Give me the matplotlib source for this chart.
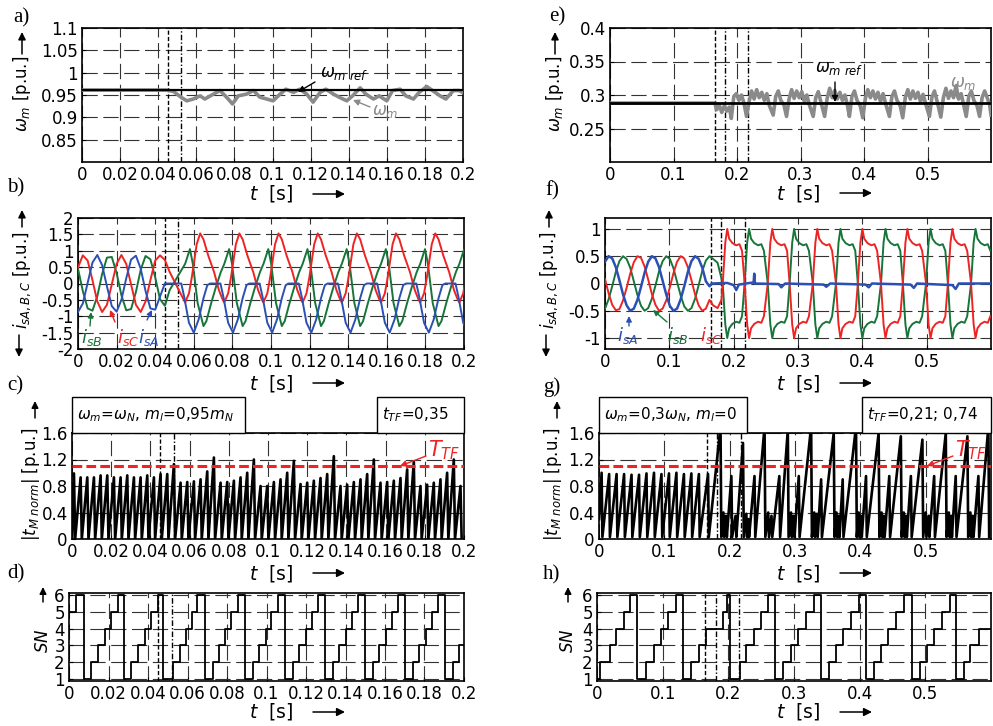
import numpy as np
import matplotlib
matplotlib.use("Agg")
import matplotlib.pyplot as plt
from matplotlib.patches import Rectangle
from matplotlib.ticker import FormatStrFormatter

plt.rcParams['font.family'] = ['DejaVu Sans']
plt.rcParams['mathtext.fontset'] = 'dejavusans'
plt.rcParams['axes.unicode_minus'] = False
plt.rcParams['lines.scale_dashes'] = False

W, H = 993, 726
RED = '#ee2424'
GREEN = '#17753a'
BLUE = '#2b50b5'
GRAY = '#8a8a8a'

# ---------------- data ----------------
# a) speed, w_m = w_N, m_l = 0.95 m_N
a_ref = 0.961
a_w = [(0, 0.961), (0.0444, 0.961), (0.048, 0.958), (0.052, 0.945), (0.055, 0.937),
       (0.0584, 0.941), (0.062, 0.948), (0.0645, 0.941), (0.069, 0.952), (0.0724, 0.960),
       (0.0759, 0.945), (0.079, 0.930), (0.082, 0.948), (0.0864, 0.952), (0.09, 0.960),
       (0.0934, 0.945), (0.097, 0.941), (0.1003, 0.937), (0.104, 0.952), (0.107, 0.963),
       (0.111, 0.956), (0.1143, 0.963), (0.118, 0.952), (0.1213, 0.934), (0.125, 0.956),
       (0.128, 0.963), (0.132, 0.952), (0.135, 0.945), (0.139, 0.937), (0.142, 0.948),
       (0.146, 0.966), (0.149, 0.952), (0.153, 0.941), (0.156, 0.948), (0.16, 0.937),
       (0.163, 0.960), (0.167, 0.963), (0.17, 0.948), (0.174, 0.941), (0.177, 0.956),
       (0.181, 0.969), (0.184, 0.960), (0.188, 0.948), (0.191, 0.941), (0.195, 0.960),
       (0.198, 0.960), (0.2, 0.955)]

# e) speed, w_m = 0.3 w_N, m_l = 0
e_ref = 0.288
e_w = [(0, 0.288), (0.165, 0.288), (0.168, 0.278), (0.172, 0.285), (0.176, 0.274),
       (0.18, 0.284), (0.184, 0.276), (0.188, 0.282), (0.191, 0.265), (0.195, 0.298),
       (0.199, 0.302), (0.203, 0.292), (0.207, 0.300), (0.211, 0.288), (0.215, 0.268),
       (0.219, 0.290), (0.223, 0.306), (0.227, 0.294), (0.231, 0.308), (0.235, 0.296),
       (0.239, 0.304), (0.243, 0.292), (0.247, 0.302), (0.251, 0.284), (0.257, 0.270),
       (0.261, 0.298), (0.265, 0.306), (0.269, 0.292), (0.274, 0.285), (0.278, 0.268),
       (0.282, 0.294), (0.286, 0.308), (0.29, 0.295), (0.294, 0.306), (0.298, 0.296),
       (0.302, 0.305), (0.306, 0.290), (0.31, 0.300), (0.314, 0.285), (0.32, 0.268),
       (0.324, 0.296), (0.328, 0.305), (0.332, 0.290), (0.338, 0.268), (0.342, 0.295),
       (0.346, 0.310), (0.35, 0.296), (0.354, 0.307), (0.358, 0.294), (0.362, 0.304),
       (0.366, 0.292), (0.37, 0.300), (0.374, 0.284), (0.377, 0.268), (0.381, 0.298),
       (0.385, 0.306), (0.389, 0.292), (0.394, 0.284), (0.398, 0.266), (0.402, 0.294),
       (0.406, 0.308), (0.41, 0.296), (0.414, 0.306), (0.418, 0.294), (0.422, 0.304),
       (0.426, 0.290), (0.43, 0.302), (0.435, 0.284), (0.44, 0.268), (0.444, 0.298),
       (0.448, 0.306), (0.452, 0.292), (0.457, 0.284), (0.461, 0.266), (0.465, 0.296),
       (0.469, 0.308), (0.473, 0.294), (0.477, 0.306), (0.481, 0.295), (0.485, 0.304),
       (0.489, 0.290), (0.493, 0.301), (0.498, 0.284), (0.503, 0.268), (0.507, 0.297),
       (0.511, 0.306), (0.515, 0.291), (0.521, 0.267), (0.525, 0.296), (0.529, 0.310),
       (0.533, 0.295), (0.537, 0.306), (0.541, 0.296), (0.545, 0.314), (0.549, 0.294),
       (0.553, 0.302), (0.557, 0.285), (0.561, 0.268), (0.565, 0.298), (0.569, 0.306),
       (0.573, 0.292), (0.578, 0.284), (0.582, 0.268), (0.586, 0.296), (0.59, 0.306),
       (0.594, 0.296), (0.598, 0.285), (0.6, 0.270)]

# b) phase currents before the fault (0 .. 0.0475 s)
b_pre_t = [0, 0.0025, 0.005, 0.0075, 0.01, 0.0125, 0.015, 0.0175, 0.02, 0.0225,
           0.025, 0.0275, 0.03, 0.0325, 0.035, 0.0375, 0.04, 0.0425, 0.045, 0.0475]
b_red_pre = [0.49, 0.86, 0.70, 0.10, -0.55, -0.87, -0.65, -0.03, 0.60, 0.87,
             0.60, -0.03, -0.65, -0.87, -0.55, 0.10, 0.70, 0.86, 0.72, 0.35]
b_blue_pre = [-0.87, -0.61, 0.02, 0.64, 0.87, 0.56, -0.09, -0.69, -0.86, -0.50,
              0.16, 0.73, 0.85, 0.45, -0.23, -0.76, -0.80, -0.40, 0.0, 0.0]
b_green_pre = [0.45, -0.23, -0.76, -0.83, -0.39, 0.29, 0.79, 0.81, 0.32, -0.36,
               -0.82, -0.78, -0.26, 0.42, 0.84, 0.74, 0.19, -0.48, -0.68, -0.20]
# after the fault: one period shape per current, repeated at each i_sC minimum
b_cycles = [0.0555, 0.0758, 0.0961, 0.1164, 0.1367, 0.157, 0.1773, 0.1976]
b_red_dt = [0, 0.002, 0.0035, 0.006, 0.0078, 0.0095, 0.012, 0.015, 0.0175, 0.0195]
b_red_v = [-0.58, -0.3, 0.2, 1.2, 1.53, 1.35, 0.85, 0.35, -0.2, -0.5]
b_green_dt = [0, 0.0025, 0.004, 0.0065, 0.0095, 0.011, 0.0135, 0.016, 0.0185]
b_green_v = [0.6, 1.05, 0.6, -0.6, -1.3, -1.15, -0.6, -0.1, 0.35]
b_blue_dt = [-0.002, -0.0005, 0.002, 0.0045, 0.007, 0.0095, 0.0115, 0.013, 0.018]
b_blue_v = [0, -0.4, -1.2, -1.5, -1.1, -0.45, -0.05, 0, 0]

# f) phase currents before the fault (0 .. 0.1624 s)
f_pre_t = [0, 0.0056, 0.0112, 0.0168, 0.0224, 0.028, 0.0336, 0.0392, 0.0448, 0.0504,
           0.056, 0.0616, 0.0672, 0.0728, 0.0784, 0.084, 0.0896, 0.0952, 0.1008, 0.1064,
           0.112, 0.1176, 0.1232, 0.1288, 0.1344, 0.14, 0.1456, 0.1512, 0.1568, 0.1624]
f_blue_pre = [0.40, 0.50, 0.46, 0.30, 0.06, -0.20, -0.40, -0.50, -0.46, -0.30,
              -0.06, 0.20, 0.40, 0.50, 0.46, 0.30, 0.05, -0.20, -0.41, -0.50,
              -0.46, -0.29, -0.05, 0.21, 0.41, 0.50, 0.45, 0.29, 0.04, -0.05]
f_green_pre = [-0.46, -0.29, -0.05, 0.21, 0.41, 0.50, 0.45, 0.29, 0.04, -0.21,
               -0.41, -0.50, -0.45, -0.28, -0.04, 0.22, 0.41, 0.50, 0.45, 0.28,
               0.03, -0.22, -0.42, -0.50, -0.45, -0.28, -0.03, 0.23, 0.42, 0.50]
f_red_pre = [0.08, -0.18, -0.39, -0.49, -0.47, -0.31, -0.08, 0.18, 0.39, 0.50,
             0.47, 0.31, 0.07, -0.19, -0.39, -0.50, -0.46, -0.31, -0.07, 0.19,
             0.40, 0.50, 0.46, 0.30, 0.06, -0.20, -0.40, -0.50, -0.46, -0.30]
f_green_tr = [(0.168, 0.45), (0.175, 0.38), (0.181, 0.1)]
f_red_tr = [(0.168, -0.40), (0.175, -0.45), (0.181, -0.3)]
f_blue_post = [(0.166, 0.0), (0.19, 0.01), (0.2, -0.03), (0.204, -0.12), (0.208, -0.02),
               (0.231, 0.02), (0.232, 0.18), (0.233, 0.0), (0.27, -0.01), (0.274, -0.07),
               (0.28, 0.0), (0.34, -0.02), (0.344, -0.06), (0.35, 0.0), (0.405, -0.02),
               (0.41, -0.07), (0.415, 0.0), (0.475, -0.02), (0.48, -0.08), (0.485, 0.0),
               (0.54, -0.03), (0.545, -0.1), (0.55, 0.0), (0.6, 0.0)]
# after the fault: half waves of i_sC / i_sB starting at each zero crossing
f_halves = [0.183, 0.217, 0.253, 0.287, 0.323, 0.359, 0.393, 0.429, 0.463, 0.499, 0.533, 0.569]
f_red_sign = [1, -1, 1, -1, 1, -1, 1, -1, 1, -1, 1, -1]
f_green_sign = [-1, 1, -1, 1, -1, 1, -1, 1, -1, 1, -1, 1]
f_half_dt = [0, 0.004, 0.007, 0.010, 0.015, 0.021, 0.026, 0.030]
f_half_v = [0, 0.75, 1.0, 0.82, 0.74, 0.70, 0.72, 0.60]

# c) |t_M norm| saw teeth: (peak time, peak value)
c_teeth = [(0.001, 0.99), (0.0044, 0.93), (0.0078, 0.93), (0.0112, 0.93), (0.0146, 0.96),
           (0.018, 0.96), (0.0214, 0.93), (0.0248, 0.93), (0.0282, 0.96), (0.0316, 0.93),
           (0.035, 0.93), (0.0384, 0.96), (0.0418, 0.93), (0.0452, 0.98), (0.0486, 0.98),
           (0.052, 1.13), (0.0554, 0.85), (0.0588, 0.86), (0.0622, 0.87), (0.0656, 0.90),
           (0.069, 1.02), (0.0724, 1.23), (0.0758, 0.85), (0.0792, 0.86), (0.0826, 0.88),
           (0.086, 0.93), (0.0894, 1.0), (0.0928, 1.2), (0.0962, 0.80), (0.0996, 0.80),
           (0.103, 0.86), (0.1064, 0.90), (0.1098, 1.0), (0.1132, 1.18), (0.1166, 0.83),
           (0.12, 0.85), (0.1234, 0.88), (0.1268, 0.92), (0.1302, 0.98), (0.1336, 1.25),
           (0.137, 0.80), (0.1404, 0.82), (0.1438, 0.86), (0.1472, 0.90), (0.1506, 0.98),
           (0.154, 1.2), (0.1574, 0.85), (0.1608, 0.86), (0.1642, 0.88), (0.1676, 0.92),
           (0.171, 1.05), (0.1744, 1.17), (0.1778, 0.80), (0.1812, 0.82), (0.1846, 0.85),
           (0.188, 0.90), (0.1914, 1.0), (0.1948, 1.2), (0.1982, 0.80)]

# g) |t_M norm| saw teeth
g_teeth = [(0.004, 1.0), (0.0155, 0.98), (0.0269, 0.98), (0.0384, 0.98), (0.0498, 0.97),
           (0.0613, 0.97), (0.0727, 0.99), (0.0842, 1.0), (0.0956, 0.98), (0.1071, 0.99),
           (0.1185, 1.0), (0.13, 0.98), (0.1414, 0.99), (0.1529, 0.98), (0.1669, 0.98),
           (0.186, 1.7), (0.1905, 0.4), (0.1945, 0.35), (0.2026, 0.95), (0.209, 0.35),
           (0.2204, 1.45), (0.2255, 0.38), (0.2285, 0.3), (0.238, 0.95), (0.2534, 1.7),
           (0.259, 0.4), (0.264, 0.35), (0.276, 0.95), (0.289, 1.65), (0.294, 0.4),
           (0.298, 0.35), (0.3058, 0.95), (0.3247, 1.7), (0.3295, 0.4), (0.3335, 0.38),
           (0.34, 0.9), (0.3593, 1.6), (0.3635, 0.4), (0.367, 0.35), (0.373, 0.9),
           (0.3934, 1.7), (0.3975, 0.4), (0.401, 0.35), (0.4087, 0.95), (0.428, 1.6),
           (0.4325, 0.4), (0.436, 0.35), (0.4443, 0.95), (0.462, 1.55), (0.4665, 0.4),
           (0.47, 0.35), (0.4774, 0.95), (0.495, 1.5), (0.5, 0.4), (0.5045, 0.35),
           (0.513, 0.95), (0.5308, 1.6), (0.5355, 0.4), (0.539, 0.35), (0.546, 0.95),
           (0.5639, 1.55), (0.5685, 0.4), (0.572, 0.35), (0.5807, 0.95), (0.596, 1.7)]
T_TF = 1.1

# d), h) sector number SN: (switch time, new sector)
d_sn = [(0, 5), (0.0035, 6), (0.0078, 1), (0.0113, 2), (0.0147, 3), (0.018, 4), (0.0214, 5),
        (0.0248, 6), (0.028, 1), (0.0315, 2), (0.035, 3), (0.0383, 4), (0.0417, 5), (0.0452, 6),
        (0.0478, 1), (0.0525, 2), (0.056, 3), (0.0594, 4), (0.0622, 5), (0.065, 6),
        (0.0687, 1), (0.0729, 2), (0.076, 3), (0.0792, 4), (0.0822, 5), (0.0856, 6),
        (0.089, 1), (0.0932, 2), (0.0963, 3), (0.0995, 4), (0.1025, 5), (0.1059, 6),
        (0.1093, 1), (0.1135, 2), (0.1166, 3), (0.1198, 4), (0.1228, 5), (0.1262, 6),
        (0.1296, 1), (0.1338, 2), (0.1369, 3), (0.1401, 4), (0.1431, 5), (0.1465, 6),
        (0.1499, 1), (0.1541, 2), (0.1572, 3), (0.1604, 4), (0.1634, 5), (0.1668, 6),
        (0.1701, 1), (0.1743, 2), (0.1774, 3), (0.1806, 4), (0.1836, 5), (0.187, 6),
        (0.1904, 1), (0.1946, 2), (0.1977, 3), (0.2, 3)]
h_sn = [(0, 1), (0.004, 2), (0.0193, 3), (0.0294, 4), (0.0406, 5), (0.0507, 6),
        (0.0609, 1), (0.075, 2), (0.0862, 3), (0.0969, 4), (0.108, 5), (0.1197, 6),
        (0.1309, 1), (0.1435, 2), (0.1552, 3), (0.1664, 4), (0.1917, 5), (0.1983, 6),
        (0.2019, 1), (0.2181, 2), (0.2272, 3), (0.2389, 4), (0.25, 5), (0.2602, 6),
        (0.2718, 1), (0.2838, 2), (0.2948, 3), (0.3058, 4), (0.3178, 5), (0.3298, 6),
        (0.3413, 1), (0.3533, 2), (0.3643, 3), (0.3753, 4), (0.3873, 5), (0.3993, 6),
        (0.4098, 1), (0.4218, 2), (0.4328, 3), (0.4438, 4), (0.4558, 5), (0.4678, 6),
        (0.4798, 1), (0.4918, 2), (0.5028, 3), (0.5138, 4), (0.5258, 5), (0.5378, 6),
        (0.5467, 1), (0.5585, 2), (0.5685, 3), (0.5822, 4), (0.6, 4)]

# fault detection instants (dashed, dash-dot, dash-dot)
left_events = [0.045, 0.052]
right_events = [0.165, 0.181, 0.217]


# ---------------- helpers ----------------
def xy(pts):
    return [p[0] for p in pts], [p[1] for p in pts]


def tile(starts, dts, vals, signs=None):
    t, v = [], []
    for i, s in enumerate(starts):
        k = 1 if signs is None else signs[i]
        t += [s + d for d in dts]
        v += [k * x for x in vals]
    return t, v


def saw(teeth, drop, base, start):
    t, v = [0.0], [start]
    for tp, h in teeth:
        t += [tp, tp + drop]
        v += [h, base]
    return t, v


def rect(l, t, r, b):
    return [l / W, 1 - b / H, (r - l) / W, (b - t) / H]


def setup(ax, xmax, xticks, ylim, yticks):
    ax.set_xlim(0, xmax)
    ax.set_ylim(*ylim)
    ax.set_xticks(xticks)
    ax.set_yticks(yticks)
    ax.xaxis.set_major_formatter(FormatStrFormatter('%g'))
    ax.yaxis.set_major_formatter(FormatStrFormatter('%g'))
    ax.tick_params(direction='in', length=3, labelsize=12, pad=3)
    ax.grid(True, color='0.2', lw=0.8, linestyle=(0, (11, 4)))
    ax.set_axisbelow(True)
    for s in ax.spines.values():
        s.set_linewidth(1.2)


def events(ax, ts):
    styles = [(0, (3, 1.6)), (0, (4, 1.5, 1, 1.5)), (0, (4, 1.5, 1, 1.5))]
    for i, tv in enumerate(ts):
        ax.axvline(tv, color='k', lw=1.0, linestyle=styles[i], zorder=2)


fig = plt.figure(figsize=(W / 100, H / 100), dpi=100)

left_ticks = np.arange(0, 0.2001, 0.02)
right_ticks = np.arange(0, 0.5001, 0.1)

# a)
ax = fig.add_axes(rect(82, 28, 463, 162))
setup(ax, 0.2, left_ticks, (0.8, 1.1), [0.85, 0.9, 0.95, 1, 1.05, 1.1])
events(ax, left_events)
t, v = xy(a_w)
ax.plot(t, v, color=GRAY, lw=2.6, zorder=3)
ax.axhline(a_ref, color='k', lw=1.6, zorder=4)

# e)
ax = fig.add_axes(rect(610, 28, 991, 162))
setup(ax, 0.6, right_ticks, (0.2, 0.4), [0.25, 0.3, 0.35, 0.4])
events(ax, right_events)
t, v = xy(e_w)
ax.plot(t, v, color=GRAY, lw=2.6, zorder=3)
ax.axhline(e_ref, color='k', lw=2.0, zorder=4)

# b)
ax = fig.add_axes(rect(78, 218, 464, 349))
setup(ax, 0.2, left_ticks, (-2, 2), np.arange(-2, 2.01, 0.5))
events(ax, left_events)
for pre, dts, vals, col in [(b_green_pre, b_green_dt, b_green_v, GREEN),
                            (b_red_pre, b_red_dt, b_red_v, RED),
                            (b_blue_pre, b_blue_dt, b_blue_v, BLUE)]:
    tt, vv = tile(b_cycles, dts, vals)
    ax.plot(b_pre_t + tt, pre + vv, color=col, lw=1.4, zorder=3)

# f)
ax = fig.add_axes(rect(605, 218, 991, 349))
setup(ax, 0.6, right_ticks, (-1.2, 1.2), [-1, -0.5, 0, 0.5, 1])
events(ax, right_events)
tt, vv = tile(f_halves, f_half_dt, f_half_v, f_green_sign)
t, v = xy(f_green_tr)
ax.plot(f_pre_t + t + tt, f_green_pre + v + vv, color=GREEN, lw=1.4, zorder=3)
tt, vv = tile(f_halves, f_half_dt, f_half_v, f_red_sign)
t, v = xy(f_red_tr)
ax.plot(f_pre_t + t + tt, f_red_pre + v + vv, color=RED, lw=1.4, zorder=3)
t, v = xy(f_blue_post)
ax.plot(f_pre_t + t, f_blue_pre + v, color=BLUE, lw=1.8, zorder=3)

# c)
ax = fig.add_axes(rect(72, 433, 464, 539))
setup(ax, 0.2, left_ticks, (0, 1.6), [0, 0.4, 0.8, 1.2, 1.6])
events(ax, left_events)
t, v = saw(c_teeth, 0.0006, 0.0, 0.0)
ax.plot(t, v, color='k', lw=1.9, zorder=3)
ax.axhline(T_TF, color=RED, lw=2.2, linestyle=(0, (7, 3)), zorder=4)

# g)
ax = fig.add_axes(rect(599, 433, 991, 539))
setup(ax, 0.6, right_ticks, (0, 1.6), [0, 0.4, 0.8, 1.2, 1.6])
events(ax, right_events)
t, v = saw(g_teeth, 0.0012, 0.03, 0.3)
ax.plot(t, v, color='k', lw=1.9, zorder=3)
ax.axhline(T_TF, color=RED, lw=2.2, linestyle=(0, (7, 3)), zorder=4)

# d)
ax = fig.add_axes(rect(69, 593, 464, 681))
setup(ax, 0.2, left_ticks, (0.9, 6.1), [1, 2, 3, 4, 5, 6])
events(ax, left_events)
t, v = xy(d_sn)
ax.step(t, v, where='post', color='k', lw=1.3, zorder=3)

# h)
ax = fig.add_axes(rect(597, 593, 991, 681))
setup(ax, 0.6, right_ticks, (0.9, 6.1), [1, 2, 3, 4, 5, 6])
events(ax, right_events)
t, v = xy(h_sn)
ax.step(t, v, where='post', color='k', lw=1.3, zorder=3)

# ---------------- overlay with labels, arrows and boxes (pixel coords) ----------------
ov = fig.add_axes([0, 0, 1, 1], zorder=10)
ov.set_xlim(0, W)
ov.set_ylim(H, 0)
ov.axis('off')


def arrow(tail, tip, color='k', lw=1.0, ms=10):
    ov.annotate('', xy=tip, xytext=tail,
                arrowprops=dict(arrowstyle='-|>', color=color, lw=lw,
                                mutation_scale=ms, shrinkA=0, shrinkB=0))


for lab, x, y in [('a)', 13, 18), ('b)', 7, 188), ('c)', 7, 386), ('d)', 7, 574),
                  ('e)', 549, 17), ('f)', 545, 191), ('g)', 543, 387), ('h)', 543, 575)]:
    ov.text(x, y, lab, fontsize=15, family='Liberation Serif', ha='left', va='center')

# time axis labels
for xc, y in [(271, 194), (271, 383), (271, 573), (271, 712),
              (798, 193), (798, 383), (798, 573), (798, 712)]:
    ov.text(xc, y, r'$t$  [s]', fontsize=13.5, ha='center', va='center')
    arrow((xc + 42, y), (xc + 74, y), lw=1.1, ms=12)

# y labels
for x in [22, 555]:
    ov.text(x, 94, r'$\omega_m$ [p.u.]', rotation=90, fontsize=12, ha='center', va='center')
    arrow((x, 54), (x, 32), lw=1.1, ms=11)
for x in [22, 549]:
    ov.text(x, 280, r'$i_{sA,B,C}$ [p.u.]', rotation=90, fontsize=12, ha='center', va='center')
    arrow((x, 227), (x, 210), lw=1.1, ms=11)
    arrow((x - 3, 335), (x - 3, 357), lw=1.1, ms=11)
for x in [31, 553]:
    ov.text(x, 484, r'$|t_{M\ norm}|$ [p.u.]', rotation=90, fontsize=12,
            ha='center', va='center')
    arrow((x + 4, 418), (x + 4, 401), lw=1.1, ms=10)
for x in [43, 568]:
    ov.text(x, 641, r'$SN$', rotation=90, fontsize=12, ha='center', va='center')
    arrow((x, 602), (x, 587), lw=1.1, ms=10)

# a) / e) annotations
ov.text(320, 73, r'$\omega_{m\ ref}$', fontsize=12, ha='left', va='center')
arrow((315, 82), (298, 92), ms=9)
ov.text(372, 111, r'$\omega_m$', fontsize=12, color=GRAY, ha='left', va='center')
arrow((370, 107), (353, 100), color=GRAY, ms=9)
ov.text(815, 68, r'$\omega_{m\ ref}$', fontsize=12, ha='left', va='center')
arrow((835, 82), (835, 102), ms=9)
ov.text(950, 83, r'$\omega_m$', fontsize=12, color=GRAY, ha='left', va='center')
arrow((958, 92), (958, 101), color=GRAY, ms=8)

# b) / f) current labels
ov.text(81, 338, r'$i_{sB}$', fontsize=13, color=GREEN, ha='left', va='center')
arrow((90, 326), (91, 312), color=GREEN, ms=8)
ov.text(117, 337, r'$i_{sC}$', fontsize=13, color=RED, ha='left', va='center')
arrow((115, 322), (110, 310), color=RED, ms=8)
ov.text(138, 337, r'$i_{sA}$', fontsize=13, color=BLUE, ha='left', va='center')
arrow((147, 320), (152, 310), color=BLUE, ms=8)
ov.text(617, 336, r'$i_{sA}$', fontsize=13, color=BLUE, ha='left', va='center')
arrow((629, 326), (629, 316), color=BLUE, ms=8)
ov.text(667, 336, r'$i_{sB}$', fontsize=13, color=GREEN, ha='left', va='center')
arrow((667, 322), (653, 310), color=GREEN, ms=8)
ov.text(700, 336, r'$i_{sC}$', fontsize=13, color=RED, ha='left', va='center')

# c) / g) boxes and threshold labels
for (l, r, txt) in [(72, 245, r'$\omega_m$=$\omega_N$, $m_l$=0,95$m_N$'),
                    (377, 464, r'$t_{TF}$=0,35'),
                    (599, 747, r'$\omega_m$=0,3$\omega_N$, $m_l$=0'),
                    (862, 991, r'$t_{TF}$=0,21; 0,74')]:
    ov.add_patch(Rectangle((l, 397), r - l, 36, fill=True, facecolor='white',
                           edgecolor='k', lw=1.0))
    ov.text(l + 5, 415, txt, fontsize=11, ha='left', va='center')
for x in [428, 955]:
    ov.text(x, 450, r'$T_{TF}$', fontsize=15, color=RED, ha='left', va='center')
    arrow((x - 2, 456), (x - 28, 466), color=RED, ms=9)

fig.savefig('out.png', dpi=100)
